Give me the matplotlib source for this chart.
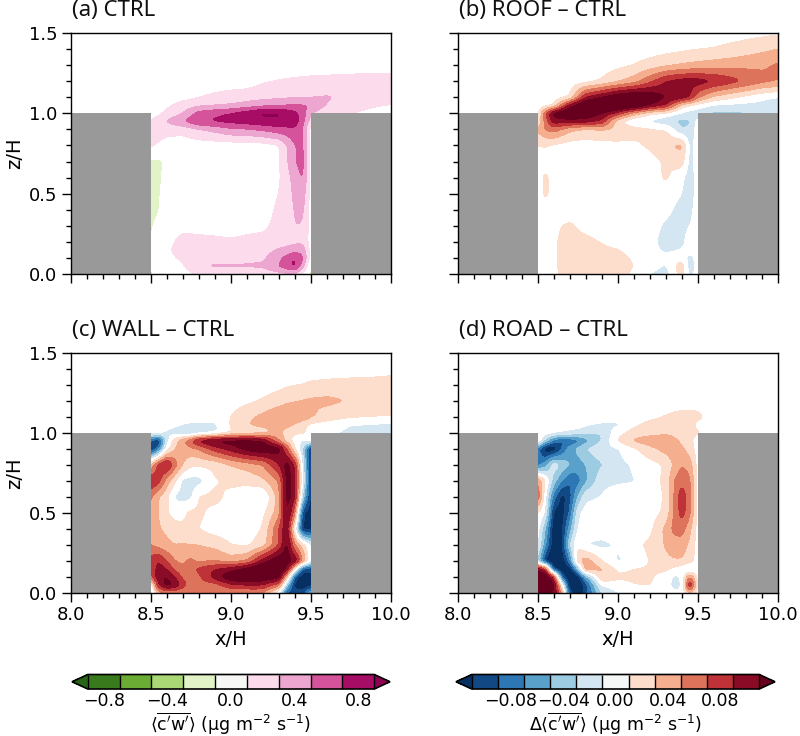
import numpy as np
import matplotlib
matplotlib.use("Agg")
import matplotlib.pyplot as plt
from matplotlib.colors import BoundaryNorm, ListedColormap
from matplotlib.cm import ScalarMappable
from matplotlib.patches import Rectangle
from matplotlib.ticker import MultipleLocator, FormatStrFormatter

x_coarse = [8.5, 8.55, 8.6, 8.7, 8.8, 8.9, 9.0, 9.1, 9.2, 9.3, 9.4, 9.45, 9.5, 9.6, 9.75, 9.9, 10.0]
x_fine = [8.5, 8.55, 8.6, 8.65, 8.7, 8.75, 8.8, 8.9, 9.0, 9.1, 9.2, 9.3, 9.35, 9.4, 9.45, 9.5, 9.6, 9.75, 9.9, 10.0]
z_grid = [1.5, 1.4, 1.3, 1.2, 1.1, 1.05, 1.0, 0.95, 0.9, 0.8, 0.7, 0.6, 0.5, 0.4, 0.3, 0.2, 0.15, 0.1, 0.05, 0.0]

# values in units of 0.1 ug m-2 s-1, on x_coarse
ctrl = [
 [0,0,0,0,0,0,0,0,0,0,0,0,0,0,0,0,0],
 [0,0,0,0,0,0,0,0,0,0,0,0,0,0,0,0,0],
 [0,0,0,0,0,0,0,0,0,0,0,0,0,0,.1,.3,.4],
 [0,0,0,0,0,0,0,0,.8,1.1,1.3,1.4,1.5,1.6,1.7,1.7,1.6],
 [0,0,0,.3,.9,1.4,1.8,2.1,2.4,2.6,2.8,2.8,2.9,3.2,2.6,2.0,1.7],
 [0,.2,.6,1.8,2.6,2.9,3.2,3.8,4.4,4.8,5.2,5.2,5.0,2.9,1.6,1.1,.9],
 [0,.6,1.5,3,5.8,6.6,7.2,8.2,9.4,9.3,7.6,6,3.2,1.1,1,.6,.4],
 [1.2,2,3.2,5,6.8,7.3,7.6,8,8.4,8.6,8.2,5.6,2,0,0,0,0],
 [1.4,1.7,1.7,1.6,2.8,3.6,4.6,4.8,5.4,6.2,6.6,5,0,0,0,0,0],
 [1.3,.8,.2,0,0,0,0,0,.2,.8,5,5.5,0,0,0,0,0],
 [-1.3,-1.4,-.6,0,0,0,0,0,0,.7,4.8,6,0,0,0,0,0],
 [-1.2,-1.3,-.5,0,0,0,0,0,0,.7,3.8,5.4,0,0,0,0,0],
 [-1.2,-1.2,-.3,0,0,0,0,0,0,1,3.4,4.2,0,0,0,0,0],
 [-1.2,-1.1,-.2,0,0,0,0,0,.1,1.4,3.1,3.5,0,0,0,0,0],
 [-1.1,-.8,.1,.5,.4,.3,.3,.5,.6,1.6,3,2.9,0,0,0,0,0],
 [-1,-.6,.4,1.6,1.5,1.4,1.2,1.4,1.6,2,2.6,2.6,0,0,0,0,0],
 [-.5,-.2,.7,1.8,2,2,2,2,2.2,3.2,4,4.2,0,0,0,0,0],
 [0,0,.5,1.3,2,2.2,2.2,2.3,2.6,4.4,7.2,5.4,0,0,0,0,0],
 [0,0,.1,.8,3.1,3.3,3.3,3.3,3.4,5.2,7.6,3.8,-1.5,0,0,0,0],
 [1.4,0,0,0,1.3,1.6,1.6,1.6,1.6,2.2,2.8,.5,-1.5,0,0,0,0],
]

# values below in units of 0.01 ug m-2 s-1; roof on x_coarse
roof = [
 [0,0,0,0,0,0,0,0,0,0,0,0,0,0,.2,.5,.7],
 [0,0,0,0,0,0,0,0,0,.3,.6,.8,.9,1.1,1.7,2.5,3],
 [0,0,0,0,0,.1,.5,1,1.8,2.6,3.2,3.4,3.6,3.9,4.3,4.7,5.3],
 [0,0,0,0,.2,1.2,2.6,4,6.5,9,10,10,10,9.2,7.4,5.6,5],
 [0,0,0,1,9,11,13,14,13,11,10.5,9,5.5,2.6,.9,-.6,-1.2],
 [0,0,.9,10,14,16,15,14,11,9,2,1,0,-1.2,-1.5,-1.6,-1.6],
 [0,7,12,14,13,11,8,4,1.4,.3,-1.3,-2,-2.2,-3.6,-3.6,-2,-1.8],
 [1,6,10,10,10,8.5,1.5,-1,-1.4,-2.5,-3.8,-3.4,0,0,0,0,0],
 [3.2,5.2,6,3.5,2.5,3,2.6,1.8,1.3,.9,-3,-2.5,0,0,0,0,0],
 [1,1.1,.6,.1,0,.2,.4,.6,1.3,2.6,3.6,-1.8,0,0,0,0,0],
 [0,.2,0,0,0,0,0,0,.2,1.3,2,-1.8,0,0,0,0,0],
 [0,1.5,0,0,0,0,0,0,0,1.3,-.5,-2.2,0,0,0,0,0],
 [0,1.5,0,0,0,0,0,0,0,.1,-1,-2.2,0,0,0,0,0],
 [0,0,0,0,0,0,0,0,0,-.4,-1.8,-1.6,0,0,0,0,0],
 [0,0,.7,1.3,.4,0,0,0,0,-1.4,-2,-1,0,0,0,0,0],
 [0,0,.8,1.6,1.5,.9,.2,0,-.2,-2,-2,.8,0,0,0,0,0],
 [0,0,.8,1.6,1.5,1.4,1.1,.2,0,-1.6,-.8,.1,0,0,0,0,0],
 [0,0,.8,1.6,1.5,1.4,1.6,.8,.1,-.1,.3,-2,0,0,0,0,0],
 [0,0,.8,1.6,1.5,1.4,1.6,1,-.2,-1.2,2.2,-2.2,0,0,0,0,0],
 [0,0,.8,1.4,1.4,1.4,1.4,.8,-1,-2,2.2,-2,0,0,0,0,0],
]

# wall and road on x_fine
wall = [
 [0,0,0,0,0,0,0,0,0,0,0,0,0,0,0,0,0,0,0,0],
 [0,0,0,0,0,0,0,0,0,0,0,0,0,0,0,0,0,0,.1,.2],
 [0,0,0,0,0,0,0,0,0,0,0,.4,.7,.9,1,1.3,1.5,1.7,1.8,2],
 [0,0,0,0,0,0,0,0,0,.5,1.2,2,2.5,2.8,3.1,3.3,3.5,2.9,2,1.7],
 [0,0,0,0,0,0,0,0,1,2.5,3.5,4.7,5.2,5.2,4.6,3.3,2,1.3,1.1,1],
 [0,0,0,-.6,-1,-1.3,-1.4,-1.4,1.2,3,3.5,4,3.6,2.8,1.5,.5,.1,-1,-1.3,-1.4],
 [0,0,-1.4,-2,-2.6,-3.4,-2.4,-1.4,.8,1.5,2,3.5,2,1.2,1.5,0,-.6,-1.5,-1.5,-1.5],
 [-9,-12,-2,2,4.5,7,10,12,12,12,11,5,2,0,-1.2,0,0,0,0,0],
 [-12,-8,0,3,4,4.5,5,8,10,12,13,12,7,1,-3,-12,0,0,0,0],
 [3,8,10,6,3,1.4,1.3,1.5,3,4,5,9,12,9,-2,-12,0,0,0,0],
 [9,8,4,1.5,-1.6,-1.8,-1.8,.8,1.4,1.3,2.5,5,12,10,-1,-12,0,0,0,0],
 [5.5,3,1.5,-1.3,-1.8,-1.5,1.1,1.5,.5,.2,-1.4,4,12,10,-4,-12,0,0,0,0],
 [4,3,1.2,.2,.5,1.5,1.3,.5,.2,.2,.5,4,12,6,-11,-12,0,0,0,0],
 [4,3.2,2.5,1.8,1.4,1.3,1,0,0,0,1.1,7,11,0,-12,-12,0,0,0,0],
 [5,4.2,3.5,3,3.2,3,3,2.4,1,.6,2,7,12,5,2,-1,0,0,0,0],
 [8,9,7,5,4.5,5.5,4.5,5,4,5,10,13,12,11,5,-1,0,0,0,0],
 [7,10,9,6.5,5.5,6.5,7.5,9,10,12,14,13,11,1,-10,-11,0,0,0,0],
 [6,11,11,9,6.5,6,6.5,10,13,14,13,12,3,-10,-13,-11,0,0,0,0],
 [-1,9,12,11,8,6,6,6,8.5,9,9,6,-4,-12,-13,-12,0,0,0,0],
 [-3,4,5,5,5,5,5,5,5,5,5,-1,-10,-10,-10,-5,0,0,0,0],
]

road = [
 [0,0,0,0,0,0,0,0,0,0,0,0,0,0,0,0,0,0,0,0],
 [0,0,0,0,0,0,0,0,0,0,0,0,0,0,0,0,0,0,0,0],
 [0,0,0,0,0,0,0,0,0,0,0,0,0,0,0,0,0,0,0,0],
 [0,0,0,0,0,0,0,0,0,0,0,0,0,0,0,0,0,0,0,0],
 [0,0,0,0,0,0,0,0,0,0,.6,1.1,1.4,1.6,1.7,1.5,0,0,0,0],
 [0,0,0,0,0,0,-.7,-1.3,-1.4,.6,1.5,1.7,1.7,1.7,1.6,.5,0,0,0,0],
 [1,0,-.5,-1,-1.5,-2,-2.5,-3,.3,1.8,2.2,2.6,2.4,2,1.6,1.2,0,0,0,0],
 [1,-4,-8,-9.5,-9,-8,-6,-3,1.2,3.4,4.2,4.3,3.5,2.5,1.5,0,0,0,0,0],
 [-8,-13,-13,-9,-6,-4.5,-3,-1.5,-1.2,.6,2.4,3.8,4.5,3.4,2,0,0,0,0,0],
 [-8,-6,-1.5,-3.5,-5,-6,-5,-3.2,-1.6,-.8,.2,1.2,3.2,5,4,0,0,0,0,0],
 [5,1,-4,-7,-9,-8,-5.5,-1.5,-1.3,-1.1,0,1.5,5,6.5,5.5,0,0,0,0,0],
 [7,-.9,-8,-12,-10,-5,-1.5,-.9,0,0,0,1.2,5,8.5,5.5,0,0,0,0,0],
 [1,-1.2,-12,-12,-9,-1.5,-.2,0,0,0,0,1.5,5.2,8,5.5,0,0,0,0,0],
 [0,-5,-13,-12,-6,-.8,0,0,0,0,.4,3.6,5.6,6,3.5,0,0,0,0,0],
 [-.5,-7,-13,-12,-3,1,-1.1,-1.5,-.8,.5,1.4,3.2,4,4,2.5,0,0,0,0,0],
 [-3,-12,-14,-13,-8,2.5,4.2,1,-1.3,-.5,1.1,2.5,2.8,2.8,1.8,0,0,0,0,0],
 [11,8,-11,-13,-13,-5,4.6,3.2,.6,1.1,1.2,1.3,.5,-.5,-1.6,-.2,0,0,0,0],
 [13,13,9,-9,-14,-13,-6,3.2,1.3,1.2,1.2,.4,-1.5,-.8,5.5,0,0,0,0,0],
 [13,13,12,1,-13,-14,-10,-.8,.3,1,1.1,-.2,-1.6,-1.3,10.5,0,0,0,0,0],
 [11,11,11,5,-10,-13,-10,-3,-1.2,-.3,0,0,-.6,-.6,3,0,0,0,0,0],
]

panels = [("(a) CTRL", ctrl, x_coarse, 0.1), ("(b) ROOF – CTRL", roof, x_coarse, 0.01),
          ("(c) WALL – CTRL", wall, x_fine, 0.01), ("(d) ROAD – CTRL", road, x_fine, 0.01)]

ctrl_levels = [-0.9, -0.7, -0.5, -0.3, -0.1, 0.1, 0.3, 0.5, 0.7, 0.9]
diff_levels = [-0.11, -0.09, -0.07, -0.05, -0.03, -0.01, 0.01, 0.03, 0.05, 0.07, 0.09, 0.11]
ctrl_ticks = [-0.8, -0.4, 0.0, 0.4, 0.8]
diff_ticks = [-0.08, -0.04, 0.0, 0.04, 0.08]
left_building = (8.0, 8.5)
right_building = (9.5, 10.0)
building_height = 1.0


def make_cmap(name, nbins):
    base = plt.get_cmap(name)
    cols = [base(f) for f in np.linspace(0.05, 0.95, nbins)]
    cm = ListedColormap(cols)
    cm.set_under(base(0.0))
    cm.set_over(base(1.0))
    return cm


def blank_centre(cm, nbins):
    cols = [cm(i) for i in range(nbins)]
    cols[nbins // 2] = (1, 1, 1, 1)
    out = ListedColormap(cols)
    out.set_under(cm(-1))
    out.set_over(cm(nbins + 5))
    return out


def render_field(x, field, unit, sigma=0.012):
    x = np.array(x)
    z = np.array(z_grid)[::-1]
    v = np.array(field, dtype=float)[::-1] * unit
    # inside the right building the field is hidden: keep the neighbouring value
    iroof = list(z).index(1.0)
    iwall = list(x).index(9.5)
    for j in np.where(x > 9.5)[0]:
        v[:iroof, j] = v[:iroof, iwall]
        v[iroof - 1, j] = v[iroof, j]
    xf = np.linspace(8.5, 10.0, 301)
    zf = np.linspace(0.0, 1.5, 301)
    tmp = np.array([np.interp(xf, x, row) for row in v])
    fine = np.array([np.interp(zf, z, col) for col in tmp.T]).T
    h = xf[1] - xf[0]
    n = int(3 * sigma / h)
    k = np.exp(-0.5 * (np.arange(-n, n + 1) * h / sigma) ** 2)
    k /= k.sum()
    pad = np.pad(fine, ((n, n), (0, 0)), mode="edge")
    fine = np.apply_along_axis(lambda c: np.convolve(c, k, mode="valid"), 0, pad)
    pad = np.pad(fine, ((0, 0), (n, n)), mode="edge")
    fine = np.apply_along_axis(lambda c: np.convolve(c, k, mode="valid"), 1, pad)
    return xf, zf, fine


cm_ctrl = make_cmap("PiYG_r", 9)
cm_diff = make_cmap("RdBu_r", 11)
norm_ctrl = BoundaryNorm(ctrl_levels, 9)
norm_diff = BoundaryNorm(diff_levels, 11)
plot_ctrl = blank_centre(cm_ctrl, 9)
plot_diff = blank_centre(cm_diff, 11)

W, H = 800, 736
fig = plt.figure(figsize=(W / 100, H / 100), dpi=100)


def axbox(x0, x1, ytop, ybot):
    return [x0 / W, 1 - ybot / H, (x1 - x0) / W, (ybot - ytop) / H]


boxes = [axbox(70.5, 391, 33, 274), axbox(457.5, 778, 33, 274),
         axbox(70.5, 391, 352.5, 593), axbox(457.5, 778, 352.5, 593)]

for i, ((title, field, xg, unit), box) in enumerate(zip(panels, boxes)):
    ax = fig.add_axes(box)
    xf, zf, vals = render_field(xg, field, unit)
    if i == 0:
        ax.contourf(xf, zf, vals, levels=ctrl_levels, cmap=plot_ctrl, norm=norm_ctrl, extend="both")
    else:
        ax.contourf(xf, zf, vals, levels=diff_levels, cmap=plot_diff, norm=norm_diff, extend="both")
    for (a, b) in (left_building, right_building):
        ax.add_patch(Rectangle((a, 0), b - a, building_height, fc="#999999", ec="none", zorder=3))
    ax.set_xlim(8, 10)
    ax.set_ylim(0, 1.5)
    ax.xaxis.set_major_locator(MultipleLocator(0.5))
    ax.xaxis.set_minor_locator(MultipleLocator(0.1))
    ax.yaxis.set_major_locator(MultipleLocator(0.5))
    ax.yaxis.set_minor_locator(MultipleLocator(0.1))
    ax.tick_params(which="major", length=6.5, width=1, labelsize=13, pad=3)
    ax.tick_params(which="minor", length=3.5, width=1)
    ax.xaxis.set_major_formatter(FormatStrFormatter("%.1f"))
    ax.yaxis.set_major_formatter(FormatStrFormatter("%.1f"))
    if i < 2:
        ax.tick_params(axis="x", labelbottom=False)
    else:
        ax.set_xlabel("x/H", fontsize=14, labelpad=4)
    if i % 2 == 1:
        ax.tick_params(axis="y", labelleft=False)
    else:
        ax.set_ylabel("z/H", fontsize=14, labelpad=3)
    for s in ax.spines.values():
        s.set_zorder(5)
        s.set_linewidth(1)
    ax.text(box[0] + 1.5 / W, box[1] + box[3] + 22.5 / H, title, transform=fig.transFigure,
            family="Noto Sans", fontsize=16, ha="left", va="center", color="#111111")


def add_cbar(x0, x1, cm, norm, ticks, fmt, label):
    cax = fig.add_axes(axbox(x0, x1, 674.5, 689))
    sm = ScalarMappable(norm=norm, cmap=cm)
    cb = fig.colorbar(sm, cax=cax, orientation="horizontal", extend="both",
                      extendfrac=0.055, drawedges=True, ticks=ticks, spacing="uniform")
    cb.ax.minorticks_off()
    cb.ax.tick_params(labelsize=12.5, length=0, pad=2)
    cb.ax.set_xticklabels([fmt % t if t >= 0 else "\u2212" + fmt % abs(t) for t in ticks])
    cb.set_label(label, fontsize=12.5, labelpad=1)
    cb.outline.set_linewidth(1.2)
    cb.dividers.set_linewidth(1.0)


add_cbar(72, 390, cm_ctrl, norm_ctrl, ctrl_ticks, "%.1f",
         r"$\langle\overline{\mathrm{c'w'}}\rangle$ ($\mathrm{\mu}$g m$^{-2}$ s$^{-1}$)")
add_cbar(456, 775, cm_diff, norm_diff, diff_ticks, "%.2f",
         r"$\Delta\langle\overline{\mathrm{c'w'}}\rangle$ ($\mathrm{\mu}$g m$^{-2}$ s$^{-1}$)")

fig.savefig("out.png", dpi=100)
